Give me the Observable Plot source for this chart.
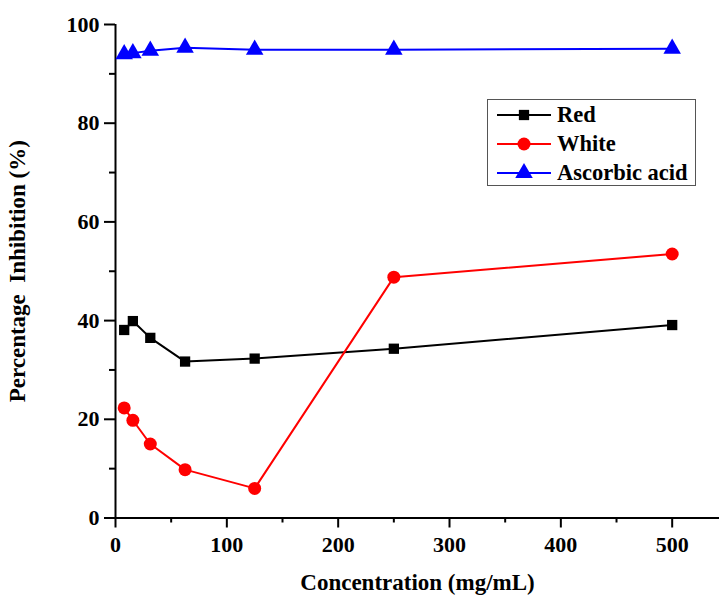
<!DOCTYPE html>
<html>
<head>
<meta charset="utf-8">
<script src="https://cdn.jsdelivr.net/npm/d3@7"></script>
<script src="https://cdn.jsdelivr.net/npm/@observablehq/plot@0.6"></script>
<style>
  body { margin: 0; background: #fff; }
  #wrap { position: relative; width: 719px; height: 596px; }
  #wrap svg text { font-family: "Liberation Serif", "Times New Roman", serif !important; font-weight: bold !important; font-size: 22px !important; }
  #wrap svg text.axtitle { font-size: 23px !important; }
  #legend { position: absolute; left: 487px; top: 99px; width: 209px; height: 87px;
    border: 1px solid #555; background: #fff; box-sizing: border-box; }
  #legend .row { position: absolute; left: 0; height: 28px; display: flex; align-items: center; }
  #legend .row span { font: bold 22.5px "Liberation Serif", "Times New Roman", serif; margin-left: 0px; }
</style>
</head>
<body>
<div id="wrap"><div id="legend"></div></div>
<script>
const concentrations = [7.8, 15.6, 31.25, 62.5, 125, 250, 500];
const seriesNames = ["Red", "White", "Ascorbic acid"];
const redValues = [38.1, 39.9, 36.5, 31.7, 32.3, 34.3, 39.1];
const whiteValues = [22.3, 19.8, 15.0, 9.8, 6.0, 48.8, 53.5];
const ascorbicValues = [94.0, 94.2, 94.7, 95.3, 94.9, 94.9, 95.1];
const seriesColors = ["#000000", "#ff0000", "#0000ff"];
const seriesSymbols = ["square", "circle", "triangle"];
const xMajorTicks = [0, 100, 200, 300, 400, 500];
const xMinorTicks = [50, 150, 250, 350, 450];
const yMajorTicks = [0, 20, 40, 60, 80, 100];
const yMinorTicks = [10, 30, 50, 70, 90];

const valueSets = [redValues, whiteValues, ascorbicValues];
const data = seriesNames.flatMap((s, i) =>
  concentrations.map((c, j) => ({series: s, x: c, y: valueSets[i][j]})));

const font = "Liberation Serif";
const markerR = [5.8, 6.5, 6.5];

const marks = [];
seriesNames.forEach((s, i) => {
  const d = data.filter(r => r.series === s);
  marks.push(Plot.line(d, {x: "x", y: "y", stroke: seriesColors[i], strokeWidth: 2}));
  marks.push(Plot.dot(d, {x: "x", y: "y", fill: seriesColors[i], stroke: "none",
    symbol: () => seriesSymbols[i], r: markerR[i]}));
});

const chart = Plot.plot({
  width: 719,
  height: 596,
  marginLeft: 115,
  marginRight: 0,
  marginTop: 24,
  marginBottom: 78.5,
  style: {fontFamily: font, fontWeight: "bold", background: "white", color: "black"},
  x: {domain: [0, 542.5]},
  y: {domain: [0, 100]},
  symbol: {type: "identity"},
  marks: [
    Plot.axisX({ticks: xMajorTicks, tickSize: 10, tickPadding: 8, strokeWidth: 2,
      tickFormat: d => String(d), fontSize: 22, fontWeight: "bold", fontFamily: font,
      label: "Concentration (mg/mL)", labelAnchor: "center", labelArrow: "none", labelOffset: 72}),
    Plot.axisX({ticks: xMinorTicks, tickSize: 5, strokeWidth: 2, tickFormat: () => "", label: null}),
    Plot.axisY({ticks: yMajorTicks, tickSize: 11, tickPadding: 5, strokeWidth: 2,
      tickFormat: d => String(d), fontSize: 22, fontWeight: "bold", fontFamily: font,
      label: "Percentage\u00a0 Inhibition (%)", labelAnchor: "center", labelArrow: "none", labelOffset: 107}),
    Plot.axisY({ticks: yMinorTicks, tickSize: 6, strokeWidth: 2, tickFormat: () => "", label: null}),
    Plot.ruleY([0], {strokeWidth: 2}),
    Plot.ruleX([0], {strokeWidth: 2}),
    ...marks
  ]
});
chart.querySelectorAll("text").forEach(t => {
  if (/Concentration|Percentage/.test(t.textContent)) t.classList.add("axtitle");
});
document.getElementById("wrap").prepend(chart);

// legend
const legend = document.getElementById("legend");
const rowTops = [1, 30, 59];
seriesNames.forEach((s, i) => {
  const row = document.createElement("div");
  row.className = "row";
  row.style.top = rowTops[i] + "px";
  const sym = d3.symbol(
    i === 0 ? d3.symbolSquare : i === 1 ? d3.symbolCircle : d3.symbolTriangle,
    Math.PI * Math.pow(markerR[i], 2))();
  row.innerHTML = `<svg width="69" height="28"><line x1="9" x2="63" y1="14" y2="14" stroke="${seriesColors[i]}" stroke-width="2"/>` +
    `<path d="${sym}" transform="translate(36,14)" fill="${seriesColors[i]}"/></svg><span>${s}</span>`;
  legend.appendChild(row);
});
</script>
</body>
</html>
